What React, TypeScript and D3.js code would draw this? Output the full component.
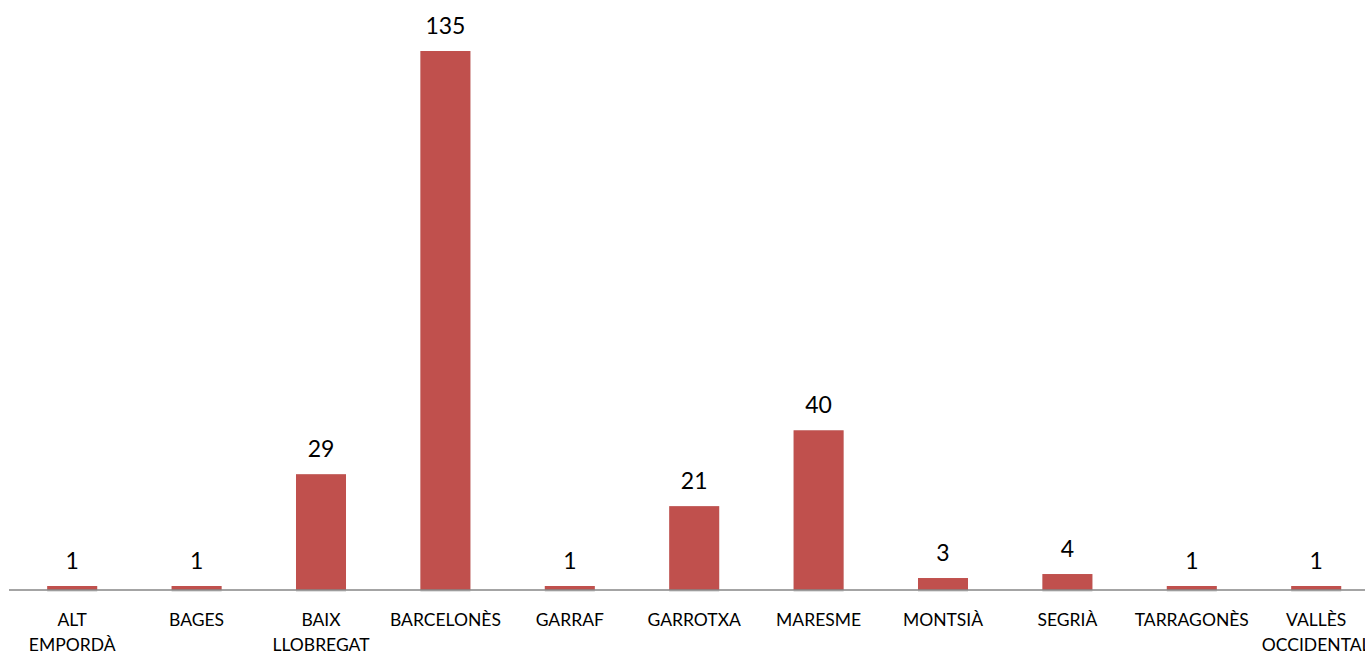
import React from "react";
import * as d3 from "d3";

const categories: string[][] = [
  ["ALT", "EMPORDÀ"],
  ["BAGES"],
  ["BAIX", "LLOBREGAT"],
  ["BARCELONÈS"],
  ["GARRAF"],
  ["GARROTXA"],
  ["MARESME"],
  ["MONTSIÀ"],
  ["SEGRIÀ"],
  ["TARRAGONÈS"],
  ["VALLÈS", "OCCIDENTAL"],
];
const values: number[] = [1, 1, 29, 135, 1, 21, 40, 3, 4, 1, 1];

const W = 1365;
const H = 655;
const left = 10;
const step = 124.4;
const baseY = 590;
const topY = 51;

export default function App() {
  const keys = categories.map((c) => c.join(" "));
  const x = d3
    .scaleBand<string>()
    .domain(keys)
    .range([left, left + step * keys.length])
    .paddingInner(0.598)
    .paddingOuter(0.299);
  const y = d3.scaleLinear().domain([0, 135]).range([baseY, topY]);
  const font = "Lato, 'Open Sans', sans-serif";
  return (
    <div style={{ position: "fixed", left: 0, top: 0, width: W, height: H, overflow: "hidden", background: "#fff" }}>
      <svg width={W} height={H} style={{ display: "block" }}>
        {values.map((v, i) => {
          const k = keys[i];
          const bx = x(k)!;
          const bw = x.bandwidth();
          return (
            <g key={k}>
              <rect x={bx} y={y(v)} width={bw} height={baseY - y(v) + 2} fill="#d9d9d9" opacity={0.8} />
              <rect x={bx} y={y(v)} width={bw} height={baseY - y(v)} fill="#C0504D" />
            </g>
          );
        })}
        <line x1={left - 1} x2={W} y1={baseY} y2={baseY} stroke="#868686" strokeWidth={1.5} />
        {values.map((v, i) => {
          const k = keys[i];
          const cx = x(k)! + x.bandwidth() / 2;
          return (
            <text key={"v" + k} x={cx} y={y(v) - 17} textAnchor="middle" fontFamily={font} fontSize={23} fill="#000">
              {v}
            </text>
          );
        })}
        {categories.map((lines, i) => {
          const k = keys[i];
          const cx = x(k)! + x.bandwidth() / 2;
          return (
            <text key={"c" + k} x={cx} textAnchor="middle" fontFamily={font} fontSize={17.5} fill="#000">
              {lines.map((l, j) => (
                <tspan key={j} x={cx} y={626 + j * 25}>
                  {l}
                </tspan>
              ))}
            </text>
          );
        })}
      </svg>
    </div>
  );
}
